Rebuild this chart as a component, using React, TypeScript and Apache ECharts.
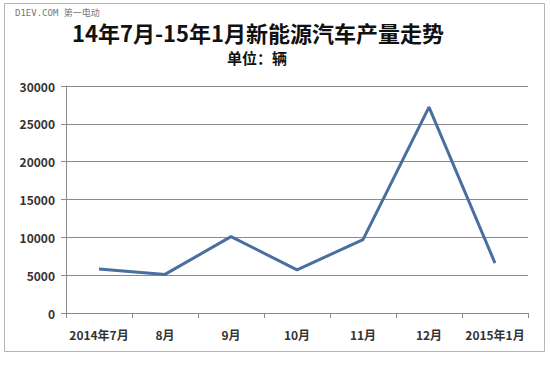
import React, { useEffect, useRef } from "react";
import * as echarts from "echarts";

const categories = ["2014年7月", "8月", "9月", "10月", "11月", "12月", "2015年1月"];
const production = [5800, 5100, 10100, 5700, 9700, 27200, 6600];
const yTicks = { min: 0, max: 30000, interval: 5000 };
const titleText = "14年7月-15年1月新能源汽车产量走势";
const subtitleText = "单位：辆";
const watermark = "D1EV.COM 第一电动";

export default function App() {
  const ref = useRef<HTMLDivElement>(null);
  useEffect(() => {
    if (!ref.current) return;
    const chart = echarts.init(ref.current, null, { renderer: "svg" });
    const font = "'Noto Sans CJK SC', 'Noto Sans', sans-serif";
    chart.setOption({
      animation: false,
      backgroundColor: "#ffffff",
      graphic: [
        {
          type: "rect",
          shape: { x: 4.5, y: 3.5, width: 540, height: 348 },
          style: { fill: "none", stroke: "#b5b5b5", lineWidth: 1 },
          silent: true,
        },
        {
          type: "text",
          x: 15,
          y: 13,
          style: {
            text: watermark,
            fontFamily: "'DejaVu Sans Mono', " + font,
            fontSize: 9,
            fill: "#777",
            verticalAlign: "middle",
          },
        },
        {
          type: "text",
          x: 258,
          y: 32,
          style: {
            text: titleText,
            fontFamily: font,
            fontSize: 22,
            fontWeight: "bold",
            fill: "#111",
            align: "center",
            verticalAlign: "middle",
          },
        },
        {
          type: "text",
          x: 257,
          y: 57,
          style: {
            text: subtitleText,
            fontFamily: font,
            fontSize: 15,
            fontWeight: "bold",
            fill: "#111",
            align: "center",
            verticalAlign: "middle",
          },
        },
      ],
      grid: { left: 66, right: 22, top: 86, bottom: 52 },
      xAxis: {
        type: "category",
        data: categories,
        boundaryGap: true,
        axisLine: { lineStyle: { color: "#8a8a8a", width: 1 } },
        axisTick: { show: true, length: 5, inside: false, lineStyle: { color: "#8a8a8a" } },
        axisLabel: { fontFamily: font, fontSize: 12, fontWeight: "bold", color: "#333", margin: 15, interval: 0 },
      },
      yAxis: {
        type: "value",
        min: yTicks.min,
        max: yTicks.max,
        interval: yTicks.interval,
        axisLine: { show: true, lineStyle: { color: "#8a8a8a", width: 1 } },
        axisTick: { show: true, length: 5, lineStyle: { color: "#8a8a8a" } },
        splitLine: { lineStyle: { color: "#8a8a8a", width: 1 } },
        axisLabel: {
          fontFamily: font,
          fontSize: 12,
          fontWeight: "bold",
          color: "#333",
          margin: 11,
          formatter: (v: number) => String(v),
        },
      },
      series: [
        {
          type: "line",
          data: production,
          symbol: "none",
          lineStyle: { color: "#4a6f9f", width: 3 },
          itemStyle: { color: "#4a6f9f" },
        },
      ],
    });
    return () => chart.dispose();
  }, []);
  return (
    <div
      ref={ref}
      style={{ position: "fixed", left: 0, top: 0, width: 550, height: 365, background: "#fff" }}
    />
  );
}
